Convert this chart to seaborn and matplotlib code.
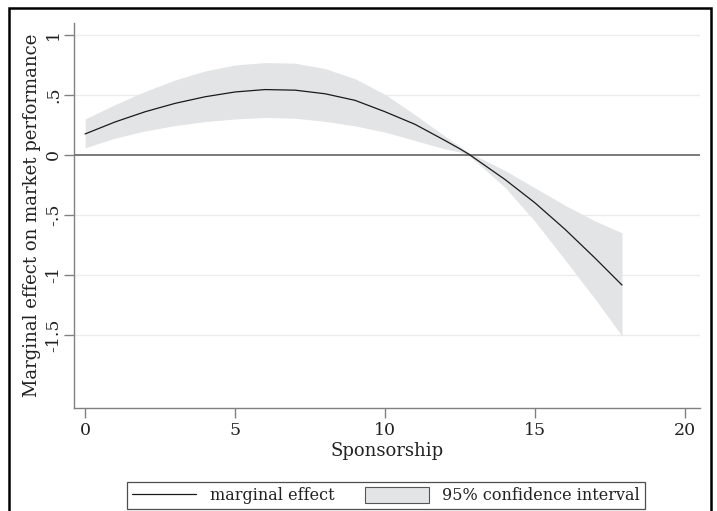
import numpy as np
import pandas as pd
import seaborn as sns
import matplotlib
matplotlib.use("Agg")
import matplotlib.pyplot as plt
from matplotlib.lines import Line2D
from matplotlib.patches import Patch, Rectangle

# Data
sponsorship = [0, 1, 2, 3, 4, 5, 6, 7, 8, 9, 10, 11, 12, 12.5, 12.8, 13,
               14, 15, 16, 17, 17.9]
marginal = [0.175, 0.275, 0.36, 0.43, 0.485, 0.525, 0.545, 0.54, 0.51, 0.455,
            0.36, 0.255, 0.12, 0.05, 0.005, -0.03,
            -0.205, -0.40, -0.62, -0.86, -1.085]
ci_upper = [0.30, 0.42, 0.53, 0.625, 0.70, 0.75, 0.77, 0.765, 0.72, 0.635,
            0.505, 0.335, 0.155, 0.07, 0.02, -0.005,
            -0.13, -0.275, -0.42, -0.55, -0.65]
ci_lower = [0.06, 0.14, 0.20, 0.245, 0.278, 0.30, 0.312, 0.306, 0.28, 0.242,
            0.19, 0.12, 0.05, 0.025, -0.01, -0.05,
            -0.27, -0.555, -0.875, -1.20, -1.51]

yticks = [1, 0.5, 0, -0.5, -1, -1.5]
ytick_labels = ["1", ".5", "0", "-.5", "-1", "-1.5"]
xticks = [0, 5, 10, 15, 20]
xtick_labels = ["0", "5", "10", "15", "20"]

df = pd.DataFrame({"Sponsorship": sponsorship, "me": marginal,
                   "hi": ci_upper, "lo": ci_lower})

sns.set_theme(style="white")
plt.rcParams["font.family"] = ["DejaVu Serif"]

fig = plt.figure(figsize=(7.17, 5.11), dpi=100)
ax = fig.add_axes([74/717, (511-408)/511, (700-74)/717, (408-23)/511])

band_color = "#e3e4e6"
ax.fill_between(df["Sponsorship"], df["lo"], df["hi"], color=band_color,
                linewidth=0, zorder=2)
sns.lineplot(data=df, x="Sponsorship", y="me", ax=ax, color="#1a1a1a",
             linewidth=0.9, zorder=4)

# gridlines
for t in yticks:
    if t != 0:
        ax.axhline(t, color="#ececec", linewidth=1.0, zorder=1)
ax.axhline(0, color="#7a7a7a", linewidth=1.4, zorder=3)

ax.set_xlim(-0.37, 20.5)
ax.set_ylim(-2.11, 1.1)

ax.set_xticks(xticks)
ax.set_xticklabels(xtick_labels)
ax.set_yticks(yticks)
ax.set_yticklabels(ytick_labels, rotation=90, va="center")

for s in ["top", "right"]:
    ax.spines[s].set_visible(False)
for s in ["left", "bottom"]:
    ax.spines[s].set_color("#808080")
    ax.spines[s].set_linewidth(1.0)

ax.tick_params(axis="both", which="both", direction="out", length=7,
               width=1.0, color="#808080", labelsize=12.5, labelcolor="#222222",
               left=True, bottom=True)
ax.tick_params(axis="y", pad=1.5)
ax.tick_params(axis="x", pad=3)

ax.set_xlabel("Sponsorship", fontsize=13, color="#222222", labelpad=2)
ax.set_ylabel("Marginal effect on market performance", fontsize=13,
              color="#222222", labelpad=3)

handles = [Line2D([0], [0], color="#1a1a1a", linewidth=0.9),
           Patch(facecolor=band_color, edgecolor="#555555", linewidth=0.8)]
leg = fig.legend(handles, ["marginal effect", "95% confidence interval"],
                 loc="center", bbox_to_anchor=(386/717, (511-495.5)/511),
                 ncol=2, frameon=True, fancybox=False, fontsize=11.5,
                 handlelength=4.0, handleheight=1.2, columnspacing=1.9,
                 borderpad=0.3, handletextpad=0.85, borderaxespad=0)
leg.get_frame().set_edgecolor("#222222")
leg.get_frame().set_linewidth(0.9)
for t in leg.get_texts():
    t.set_color("#222222")

# outer border like the reference
fig.patches.append(Rectangle((9/717, -0.05), 702/717, 1.05 - 8/511,
                             transform=fig.transFigure, fill=False,
                             edgecolor="black", linewidth=1.8, clip_on=False))

fig.savefig("out.png", dpi=100, facecolor="white")
